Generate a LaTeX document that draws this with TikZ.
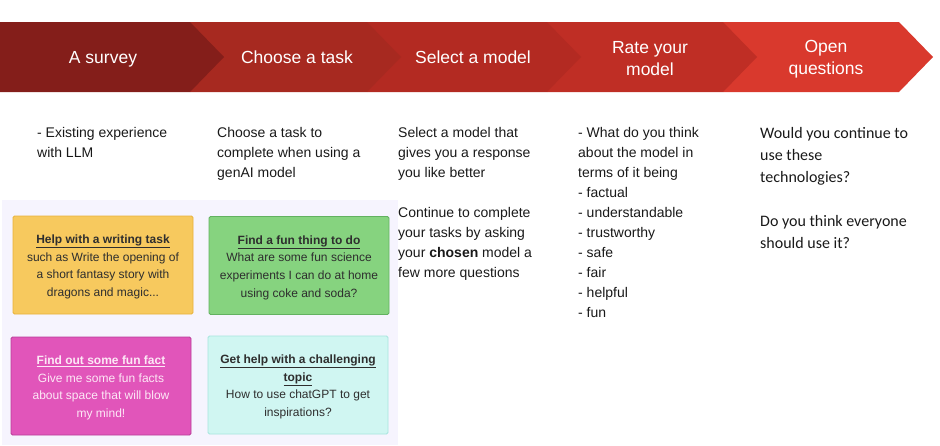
\documentclass[tikz,border=0pt]{standalone}
\usepackage{fontspec}
\setmainfont{Liberation Sans}
\newfontfamily\calibrifont{Carlito}
\definecolor{chevA}{HTML}{841E1A}
\definecolor{chevB}{HTML}{A72920}
\definecolor{chevC}{HTML}{B32A22}
\definecolor{chevD}{HTML}{BF2E25}
\definecolor{chevE}{HTML}{D9392D}
\definecolor{panelBg}{HTML}{F6F4FE}
\definecolor{cardText}{HTML}{2E2E2E}
\definecolor{cardYellow}{HTML}{F7C95E}
\definecolor{cardYellowEdge}{HTML}{E8B23A}
\definecolor{cardGreen}{HTML}{86D37F}
\definecolor{cardGreenEdge}{HTML}{62B160}
\definecolor{cardPink}{HTML}{E155BA}
\definecolor{cardPinkEdge}{HTML}{B83E98}
\definecolor{cardPinkText}{HTML}{FDE8F6}
\definecolor{cardCyan}{HTML}{D0F6F2}
\definecolor{cardCyanEdge}{HTML}{A6E5DE}
\tikzset{
  heading/.style={text=white, align=center, inner sep=0pt,
    font=\fontsize{17.5}{22}\selectfont},
  oneline/.style={text height=12.5pt, text depth=4pt},
  colnote/.style={anchor=north west, align=left, inner sep=0pt,
    text=black!90, font=\fontsize{14}{20}\selectfont},
  taskcard/.style={draw, rounded corners=1.5pt, line width=0.9pt,
    minimum width=180pt, minimum height=98pt, align=center, inner sep=0pt,
    text=cardText, font=\fontsize{12}{17.7}\selectfont},
}
\begin{document}
\begin{tikzpicture}[x=1pt, y=-1pt]
 \useasboundingbox (0,0) rectangle (940,445);
 % banner, drawn from the right so each tip lies on top
 \foreach \xa/\xb/\col in {723/899/chevE, 547/723/chevD, 367/547/chevC, 190/367/chevB, 0/190/chevA}
  \fill[\col] (\xa,22) -- (\xb,22) -- (\xb+34,57) -- (\xb,92) -- (\xa,92) -- cycle;
 \node[heading, oneline] (survey) at (103,59) {A survey};
 \node[heading, oneline] (task) at (297,59) {Choose a task};
 \node[heading, oneline] (select) at (473,59) {Select a model};
 \node[heading] (rate) at (650,59) {Rate your\\ model};
 \node[heading] (open) at (826,59) {Open\\ questions};
 % notes under each step
 \node[colnote] (surveynote) at (37,127.5) {- Existing experience\\ with LLM};
 \node[colnote] (tasknote) at (217,127.5) {Choose a task to\\ complete when using a\\ genAI model};
 \node[colnote] (selectnote) at (398,127.5) {Select a model that\\ gives you a response\\ you like better\\[20pt]
   Continue to complete\\ your tasks by asking\\ your \textbf{chosen} model a\\ few more questions};
 \node[colnote] (ratenote) at (578,127.5) {- What do you think\\ about the model in\\ terms of it being\\
   - factual\\ - understandable\\ - trustworthy\\ - safe\\ - fair\\ - helpful\\ - fun};
 \node[colnote, font=\calibrifont\fontsize{16}{22}\selectfont] (opennote) at (760,127) {Would you continue to\\ use these\\ technologies?\\[22pt]
   Do you think everyone\\ should use it?};
 % example tasks
 \fill[panelBg] (2,200) rectangle (398,445);
 \node[taskcard, fill=cardYellow, draw=cardYellowEdge] (writing) at (103,265) {};
 \node[align=center, text=cardText, font=\fontsize{12}{17.7}\selectfont] (writingtext) at (103,267)
  {\textbf{\underline{Help with a writing task}}\\ such as Write the opening of\\ a short fantasy story with\\ dragons and magic...};
 \node[taskcard, fill=cardGreen, draw=cardGreenEdge] (funthing) at (299,265.5) {};
 \node[align=center, text=cardText, font=\fontsize{12}{17.7}\selectfont] (funthingtext) at (299,267.5)
  {\textbf{\underline{Find a fun thing to do}}\\ What are some fun science\\ experiments I can do at home\\ using coke and soda?};
 \node[taskcard, fill=cardPink, draw=cardPinkEdge] (funfact) at (101,386) {};
 \node[align=center, text=cardPinkText, font=\fontsize{12}{17.7}\selectfont] (funfacttext) at (101,388)
  {\textbf{\underline{Find out some fun fact}}\\ Give me some fun facts\\ about space that will blow\\ my mind!};
 \node[taskcard, fill=cardCyan, draw=cardCyanEdge] (topic) at (298,385) {};
 \node[align=center, text=cardText, font=\fontsize{12}{17.7}\selectfont] (topictext) at (298,387)
  {\textbf{\underline{Get help with a challenging}}\\ \textbf{\underline{topic}}\\ How to use chatGPT to get\\ inspirations?};
\end{tikzpicture}
\end{document}
